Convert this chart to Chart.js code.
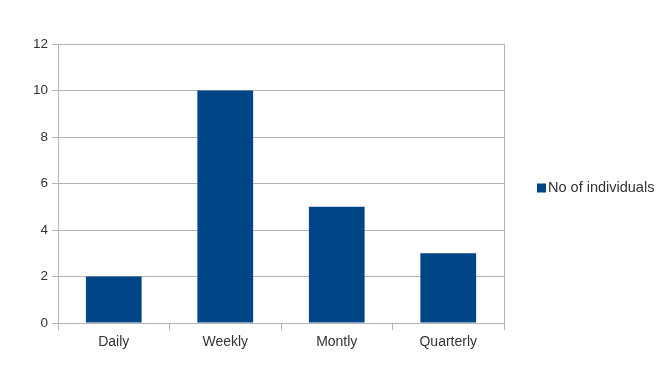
<!DOCTYPE html>
<html>
<head>
<meta charset="utf-8">
<script src="https://cdn.jsdelivr.net/npm/chart.js@4/dist/chart.umd.min.js"></script>
<style>
html,body{margin:0;padding:0;background:#fff;}
#wrap{width:668px;height:376px;position:relative;}
</style>
</head>
<body>
<div id="wrap"><canvas id="c" width="668" height="376"></canvas></div>
<script>
const categories = ["Daily", "Weekly", "Montly", "Quarterly"];
const seriesName = "No of individuals";
const values = [2, 10, 5, 3];
const yTicks = [0, 2, 4, 6, 8, 10, 12];

const barColor = "#004586";
const gridColor = "#b3b3b3";
const textColor = "#333333";
const fontFamily = "'Liberation Sans', Arial, sans-serif";

const legendPlugin = {
  id: "customLegend",
  afterDraw(chart) {
    const ctx = chart.ctx;
    const a = chart.chartArea;
    const x = a.right + 33;
    const cy = (a.top + a.bottom) / 2 + 4.5;
    ctx.save();
    ctx.fillStyle = barColor;
    ctx.fillRect(x, cy - 4.5, 9, 9);
    ctx.fillStyle = textColor;
    ctx.font = "14.5px " + fontFamily;
    ctx.textBaseline = "middle";
    ctx.textAlign = "left";
    ctx.fillText(chart.data.datasets[0].label, x + 11, cy);
    ctx.restore();
  }
};

new Chart(document.getElementById("c"), {
  type: "bar",
  data: {
    labels: categories,
    datasets: [{
      label: seriesName,
      data: values,
      backgroundColor: barColor,
      borderWidth: 0,
      categoryPercentage: 1.0,
      barPercentage: 0.5
    }]
  },
  options: {
    responsive: false,
    animation: false,
    devicePixelRatio: 1,
    layout: { padding: { left: 0, top: 44, right: 164, bottom: 0 } },
    plugins: { legend: { display: false }, tooltip: { enabled: false } },
    scales: {
      x: {
        offset: true,
        grid: { offset: true, drawOnChartArea: false, color: gridColor, tickLength: 7 },
        border: { color: gridColor },
        ticks: { color: textColor, font: { family: fontFamily, size: 14 }, padding: 4 },
        afterFit(s) { s.height = 53; }
      },
      y: {
        min: 0, max: 12,
        afterBuildTicks(s) { s.ticks = yTicks.map(v => ({ value: v })); },
        grid: { color: gridColor, tickLength: 6 },
        border: { color: gridColor },
        ticks: { color: textColor, font: { family: fontFamily, size: 13.5 }, padding: 4 },
        afterFit(s) { s.width = 58; }
      },
      y2: {
        position: "right",
        min: 0, max: 12,
        grid: { drawOnChartArea: false, drawTicks: false },
        border: { color: gridColor },
        ticks: { display: false },
        afterFit(s) { s.width = 0; }
      }
    }
  },
  plugins: [legendPlugin]
});
</script>
</body>
</html>
